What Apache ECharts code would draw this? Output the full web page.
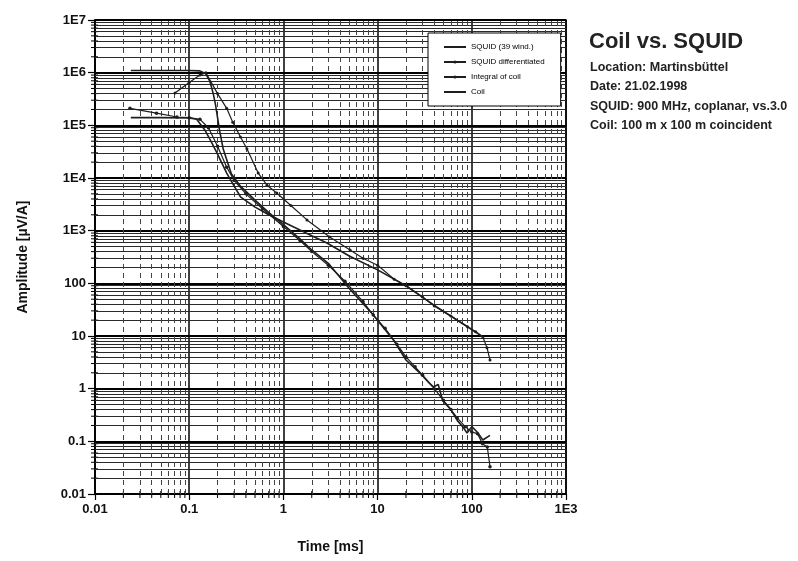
<!DOCTYPE html>
<html><head><meta charset="utf-8">
<script src="https://cdn.jsdelivr.net/npm/echarts@6/dist/echarts.min.js"></script>
<style>html,body{margin:0;padding:0;background:#fff}#c{width:798px;height:561px}</style>
</head><body><div id="c"></div>
<script>
// ---- data (time in ms, amplitude in µV/A) ----
const seriesNames = ['SQUID (39 wind.)', 'SQUID differentiated', 'Integral of coil', 'Coil'];

const squidT = [0.024, 0.05, 0.1, 0.12, 0.147, 0.17, 0.197, 0.25, 0.3, 0.35, 0.5, 0.7, 1, 2, 2.9, 5, 10, 20, 40, 90, 131];
const squidA = [1.4e5, 1.4e5, 1.38e5, 1.3e5, 8.1e4, 5e4, 3.0e4, 1.24e4, 7e3, 4.4e3, 2.8e3, 2e3, 1.46e3, 800, 583, 330, 180, 90, 38, 15, 9.6];

const squidDiffT = [0.0235, 0.045, 0.074, 0.1, 0.13, 0.16, 0.2, 0.25, 0.3, 0.4, 0.6, 1, 1.5, 2, 3, 4.5, 7, 9, 12, 16, 20, 25, 30, 40, 50, 60, 70, 85, 100, 115, 130, 146, 156];
const squidDiffA = [2.1e5, 1.7e5, 1.44e5, 1.4e5, 1.3e5, 9e4, 4e4, 1.6e4, 9e3, 5e3, 2.6e3, 1.2e3, 650, 400, 220, 110, 45, 25, 14, 7, 4, 2.6, 1.8, 1.0, 0.6, 0.4, 0.28, 0.19, 0.15, 0.14, 0.09, 0.078, 0.033];

const integT = [0.0707, 0.1, 0.13, 0.15, 0.2, 0.25, 0.29, 0.35, 0.41, 0.54, 0.67, 0.85, 1.2, 1.78, 3.1, 5.1, 7, 10, 15, 20, 30, 40, 60, 90, 110, 131, 145, 156];
const integA = [4.1e5, 6.5e5, 9e5, 1.0e6, 4e5, 2.1e5, 1.15e5, 6e4, 3.6e4, 1.24e4, 7.3e3, 5.2e3, 3e3, 1.6e3, 759, 430, 300, 220, 120, 90, 55, 37, 24, 15, 12, 9.6, 6, 3.5];

const coilT = [0.024, 0.05, 0.1, 0.13, 0.15, 0.165, 0.18, 0.19, 0.2, 0.21, 0.23, 0.26, 0.28, 0.35, 0.5, 0.7, 1, 1.5, 2, 3, 5, 9, 15, 20, 28, 35, 39, 44, 49, 60, 70, 80, 89, 100, 114, 131, 156];
const coilA = [1.1e6, 1.1e6, 1.1e6, 1.08e6, 9.5e5, 7e5, 4e5, 2.5e5, 1.4e5, 8e4, 3.5e4, 1.8e4, 1.2e4, 7e3, 3.8e3, 2.2e3, 1.3e3, 700, 430, 240, 80, 25, 8, 3.5, 2.0, 1.3, 1.08, 1.2, 0.6, 0.4, 0.25, 0.19, 0.144, 0.19, 0.15, 0.106, 0.13];

const minorMult = [2, 3, 4, 5, 6, 7, 8, 9];
const yDecades = [-2, -1, 0, 1, 2, 3, 4, 5, 6];
const xDecades = [-2, -1, 0, 1, 2];

const infoTitle = 'Coil vs. SQUID';
const infoLines = ['Location: Martinsbüttel', 'Date: 21.02.1998', 'SQUID: 900 MHz, coplanar, vs.3.0', 'Coil: 100 m x 100 m coincident'];

// ---- build ----
const FONT = '"Liberation Sans", Arial, sans-serif';
const pairs = (t, a) => t.map((x, i) => [x, a[i]]);
const yMinor = []; yDecades.forEach(e => minorMult.forEach(m => yMinor.push(+(m * Math.pow(10, e)).toPrecision(3))));
const xMinor = []; xDecades.forEach(e => minorMult.forEach(m => xMinor.push(+(m * Math.pow(10, e)).toPrecision(3))));
const X_MIN = 0.01, Y_MIN = 0.01;

function fmt(v) {
  const e = Math.round(Math.log10(v));
  if (e >= 3) return '1E' + e;
  return String(+Math.pow(10, e).toPrecision(1));
}

const labelStyle = { fontFamily: FONT, fontWeight: 'bold', fontSize: 13, color: '#111' };
const lineCol = '#1e1e1e';

const chart = echarts.init(document.getElementById('c'), null, { renderer: 'canvas' });
chart.setOption({
  animation: false,
  backgroundColor: '#fff',
  title: { text: infoTitle, left: 589, top: 31, padding: 0, textStyle: { fontFamily: FONT, fontWeight: 'bold', fontSize: 22, color: '#222' } },
  graphic: infoLines.map((s, i) => ({
    type: 'text', left: 590, top: 61 + i * 19.5, z: 100,
    style: { text: s, font: 'bold 12.5px ' + FONT, fill: '#222' }
  })),
  legend: {
    orient: 'vertical', left: 428, top: 33, padding: [9, 16, 9, 15], itemGap: 5,
    itemWidth: 22, itemHeight: 4, backgroundColor: '#fff', borderColor: '#000', borderWidth: 1, z: 50,
    textStyle: { fontFamily: FONT, fontSize: 8, color: '#000', lineHeight: 10 },
    data: [
      { name: seriesNames[0], itemStyle: { opacity: 0 } },
      { name: seriesNames[1] },
      { name: seriesNames[2] },
      { name: seriesNames[3], itemStyle: { opacity: 0 } }
    ]
  },
  grid: { left: 95, top: 20, width: 471, height: 474, show: true, borderColor: '#000', borderWidth: 1.5, backgroundColor: 'transparent' },
  xAxis: {
    type: 'log', logBase: 10, min: X_MIN, max: 1000, splitNumber: 5,
    axisLine: { show: true, onZero: false, lineStyle: { color: '#000', width: 1.5 } },
    axisTick: { show: true, length: 6, lineStyle: { color: '#000', width: 1.2 } },
    axisLabel: Object.assign({ formatter: fmt, margin: 9 }, labelStyle),
    splitLine: { show: true, lineStyle: { color: '#000', width: 1.5 } },
    name: 'Time [ms]', nameLocation: 'middle', nameGap: 46,
    nameTextStyle: { fontFamily: FONT, fontWeight: 'bold', fontSize: 14, color: '#111' }
  },
  yAxis: {
    type: 'log', logBase: 10, min: Y_MIN, max: 1e7, splitNumber: 9,
    axisLine: { show: true, onZero: false, lineStyle: { color: '#000', width: 1.5 } },
    axisTick: { show: true, length: 7, lineStyle: { color: '#000', width: 1.2 } },
    axisLabel: Object.assign({ formatter: fmt, margin: 9 }, labelStyle),
    splitLine: { show: true, lineStyle: { color: '#000', width: 2 } },
    name: 'Amplitude [µV/A]', nameLocation: 'middle', nameGap: 65, nameRotate: 90,
    nameTextStyle: { fontFamily: FONT, fontWeight: 'bold', fontSize: 14, color: '#111' }
  },
  series: [
    {
      name: 'gridMinor', type: 'line', data: [], silent: true, z: 1,
      markLine: {
        silent: true, symbol: ['none', 'none'], label: { show: false }, animation: false,
        data: yMinor.map(v => ({ yAxis: v, lineStyle: { color: '#2a2a2a', width: 1, type: 'solid' } }))
          .concat(xMinor.map(v => ({ xAxis: v, lineStyle: { color: '#444', width: 1, type: [5, 4] } })))
      }
    },
    {
      name: 'yMinorTicks', type: 'custom', silent: true, clip: false, z: 3,
      data: yMinor.map(v => [X_MIN, v]),
      renderItem: (params, api) => {
        const p = api.coord([api.value(0), api.value(1)]);
        return { type: 'line', shape: { x1: p[0] - 4, y1: p[1], x2: p[0] + 3, y2: p[1] }, style: { stroke: '#000', lineWidth: 1 } };
      }
    },
    {
      name: 'xMinorTicks', type: 'custom', silent: true, clip: false, z: 3,
      data: xMinor.map(v => [v, Y_MIN]),
      renderItem: (params, api) => {
        const p = api.coord([api.value(0), api.value(1)]);
        return { type: 'line', shape: { x1: p[0], y1: p[1] - 3, x2: p[0], y2: p[1] + 4 }, style: { stroke: '#000', lineWidth: 1 } };
      }
    },
    { name: seriesNames[0], type: 'line', data: pairs(squidT, squidA), showSymbol: false, symbol: 'none', z: 5,
      lineStyle: { color: lineCol, width: 1.6 }, itemStyle: { color: lineCol } },
    { name: seriesNames[1], type: 'line', data: pairs(squidDiffT, squidDiffA), symbol: 'circle', symbolSize: 3.5, showSymbol: true, z: 5,
      lineStyle: { color: lineCol, width: 1.2 }, itemStyle: { color: lineCol } },
    { name: seriesNames[2], type: 'line', data: pairs(integT, integA), symbol: 'circle', symbolSize: 3, showSymbol: true, z: 5,
      lineStyle: { color: lineCol, width: 1.2 }, itemStyle: { color: lineCol } },
    { name: seriesNames[3], type: 'line', data: pairs(coilT, coilA), showSymbol: false, symbol: 'none', z: 5,
      lineStyle: { color: lineCol, width: 1.6 }, itemStyle: { color: lineCol } }
  ]
});
</script>
</body></html>
